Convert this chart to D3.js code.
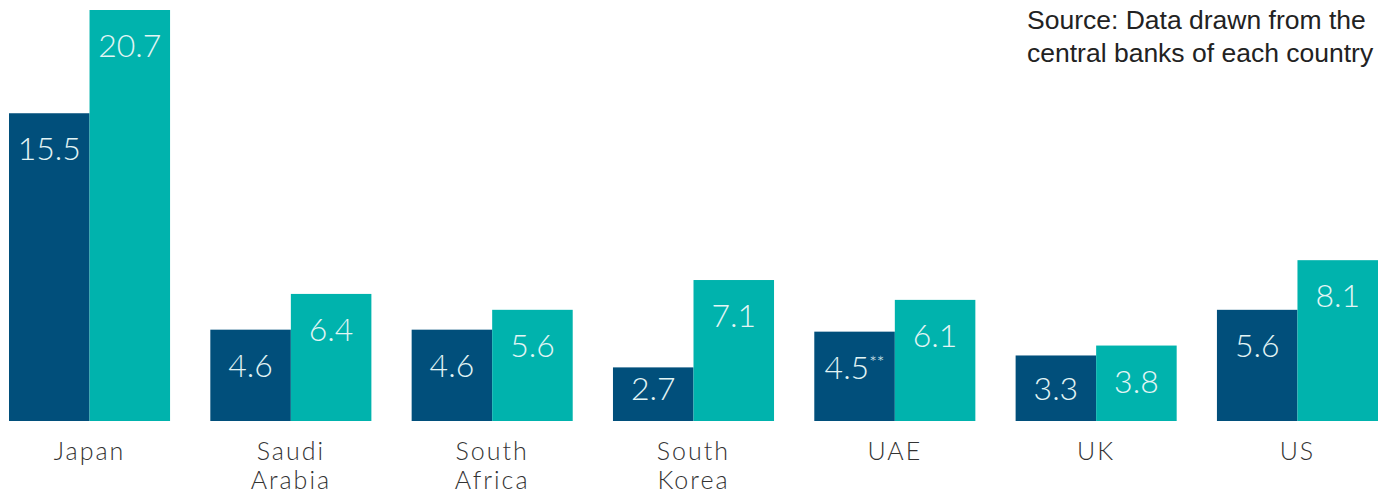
<!DOCTYPE html>
<html>
<head>
<meta charset="utf-8">
<script src="https://cdn.jsdelivr.net/npm/d3@7"></script>
<style>
  body { margin: 0; background: #fff; }
  svg { display: block; }
</style>
</head>
<body>
<svg id="chart"></svg>
<script>
const width = 1384; // pixels
const height = 493; // pixels

const countries = ["Japan", "Saudi Arabia", "South Africa", "South Korea", "UAE", "UK", "US"];
const countryLines = [["Japan"], ["Saudi", "Arabia"], ["South", "Africa"], ["South", "Korea"], ["UAE"], ["UK"], ["US"]];
const seriesA = [15.5, 4.6, 4.6, 2.7, 4.5, 3.3, 5.6];
const seriesB = [20.7, 6.4, 5.6, 7.1, 6.1, 3.8, 8.1];
const labelsA = ["15.5", "4.6", "4.6", "2.7", "4.5**", "3.3", "5.6"];
const labelsB = ["20.7", "6.4", "5.6", "7.1", "6.1", "3.8", "8.1"];
const sourceLines = ["Source: Data drawn from the", "central banks of each country"];

const colors = ["#014f7b", "#00b3ad"];

const svg = d3.select("#chart")
  .attr("width", width)
  .attr("height", height);

const x = d3.scaleBand(countries, [9, 1378]).paddingInner(0.2).paddingOuter(0);
const sub = d3.scaleBand([0, 1], [0, x.bandwidth()]);
const y = d3.scaleLinear([0, 20.7], [421, 10]);

const rows = countries.map((c, i) => ({
  country: c,
  bars: [
    {key: 0, value: seriesA[i], label: labelsA[i]},
    {key: 1, value: seriesB[i], label: labelsB[i]}
  ]
}));

const groups = svg.append("g")
  .selectAll("g")
  .data(rows)
  .join("g")
  .attr("transform", d => `translate(${x(d.country)},0)`);

groups.selectAll("rect")
  .data(d => d.bars)
  .join("rect")
  .attr("x", d => sub(d.key))
  .attr("y", d => y(d.value))
  .attr("width", sub.bandwidth())
  .attr("height", d => y(0) - y(d.value))
  .attr("fill", d => colors[d.key]);

groups.selectAll("text.value")
  .data(d => d.bars)
  .join("text")
  .attr("class", "value")
  .attr("x", d => sub(d.key) + sub.bandwidth() / 2)
  .attr("y", d => Math.min(y(d.value) + 47, 400))
  .attr("text-anchor", "middle")
  .attr("font-family", "Lato, sans-serif")
  .attr("font-weight", 300)
  .attr("font-size", 32)
  .attr("fill", "#e3f5f5")
  .each(function(d) {
    const t = d3.select(this);
    const m = d.label.match(/^([\d.]+)(\**)$/);
    t.append("tspan").text(m[1]);
    if (m[2]) t.append("tspan").attr("font-size", 18).attr("dy", -10).text(m[2]);
  });

// category labels, one text per line
const catLines = countries.flatMap((c, i) =>
  countryLines[i].map((line, j) => ({country: c, line, row: j})));

svg.append("g")
  .selectAll("text")
  .data(catLines)
  .join("text")
  .attr("x", d => x(d.country) + x.bandwidth() / 2)
  .attr("y", d => 460 + d.row * 29)
  .attr("text-anchor", "middle")
  .attr("font-family", "Lato, sans-serif")
  .attr("font-weight", 300)
  .attr("font-size", 25)
  .attr("letter-spacing", 2)
  .attr("fill", "#333")
  .text(d => d.line);

// source note
svg.append("text")
  .attr("x", 1027)
  .attr("y", 29)
  .attr("font-family", "'Liberation Sans', Arial, sans-serif")
  .attr("font-size", 26.5)
  .attr("fill", "#222")
  .selectAll("tspan")
  .data(sourceLines)
  .join("tspan")
  .attr("x", 1027)
  .attr("dy", (d, i) => i === 0 ? 0 : 33)
  .text(d => d);
</script>
</body>
</html>
